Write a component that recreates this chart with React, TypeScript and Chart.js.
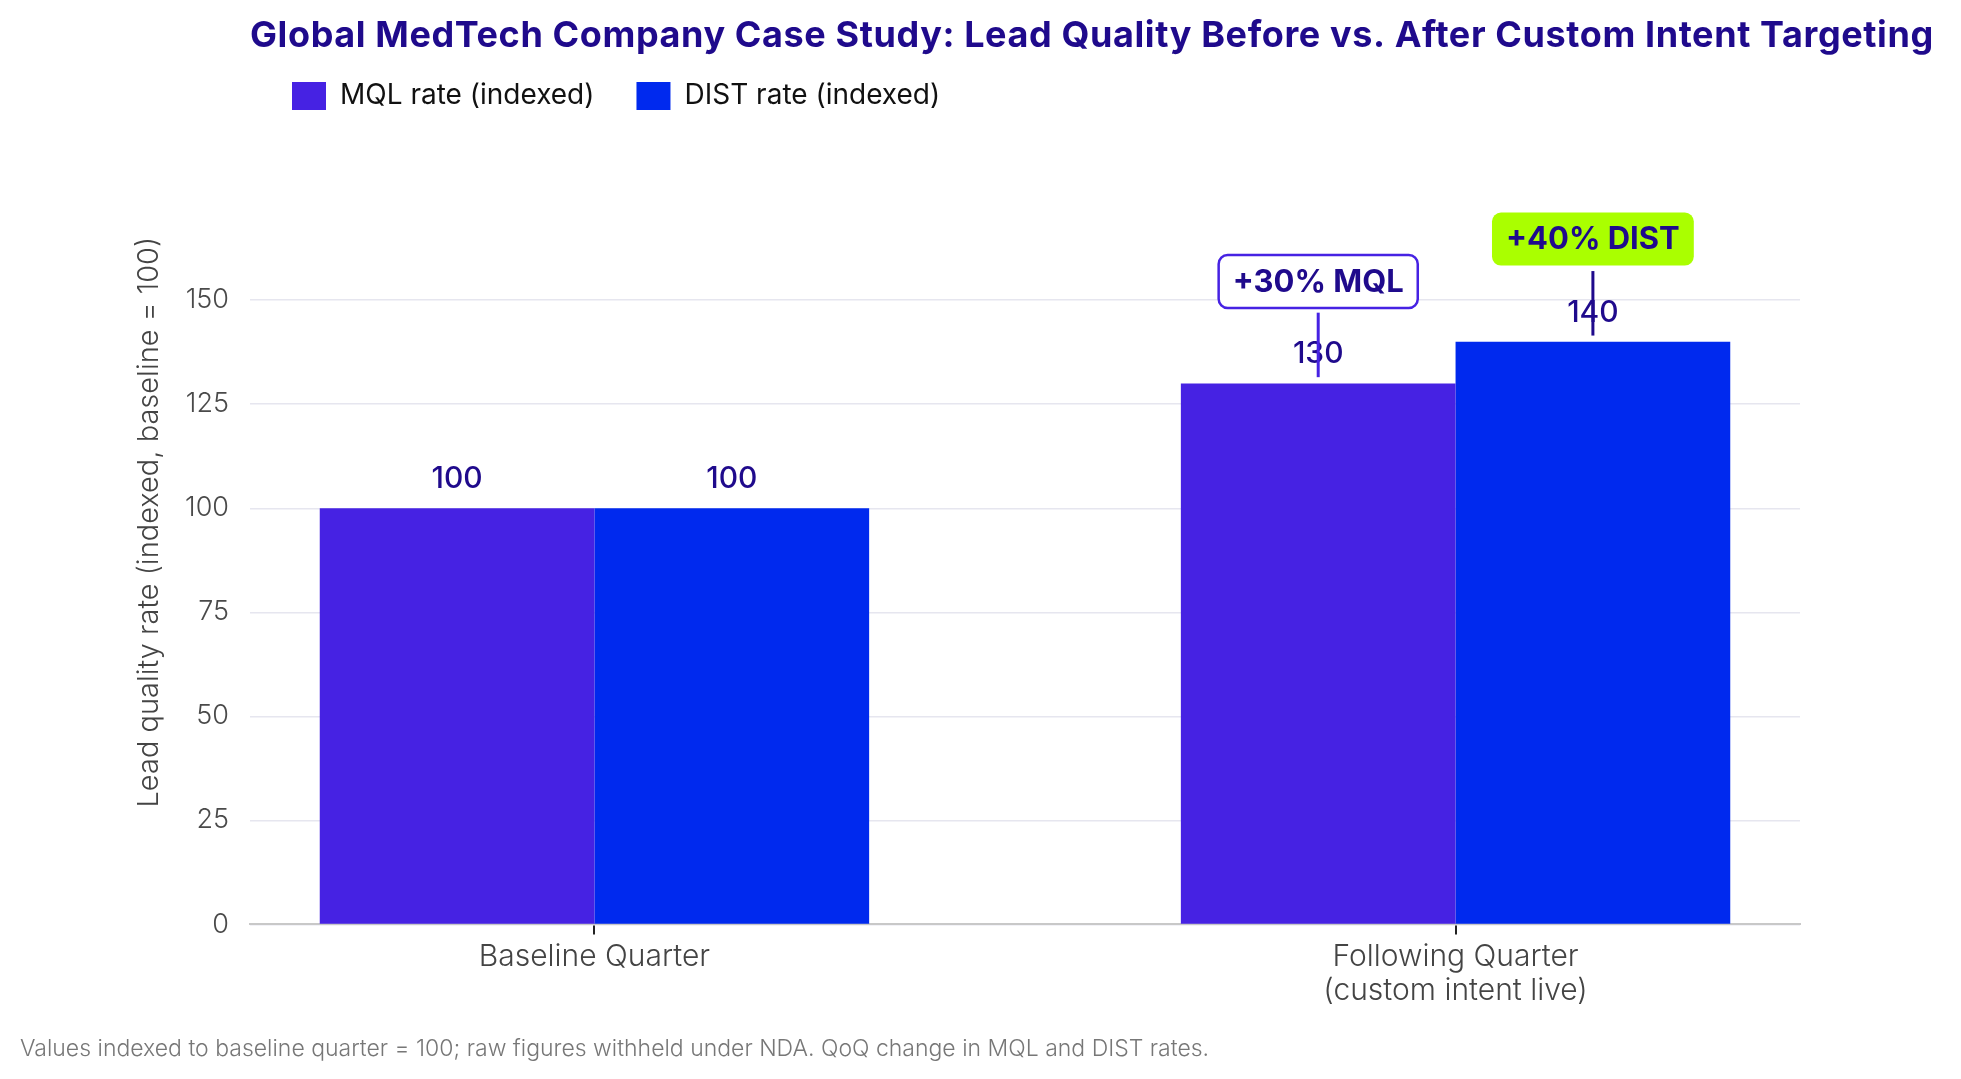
import { useEffect, useRef } from 'react';
import { Chart, registerables } from 'chart.js';
import type { Plugin } from 'chart.js';

Chart.register(...registerables);

const FONT = 'Inter, "Noto Sans", sans-serif';
const INK = '#1f0a8c';
const MQL_COLOR = '#4622e3';
const DIST_COLOR = '#0029ee';
const LIME = '#aaff00';

const TITLE = 'Global MedTech Company Case Study: Lead Quality Before vs. After Custom Intent Targeting';
const FOOTNOTE = 'Values indexed to baseline quarter = 100; raw figures withheld under NDA. QoQ change in MQL and DIST rates.';
const Y_TITLE = 'Lead quality rate (indexed, baseline = 100)';

const quarters = [['Baseline Quarter'], ['Following Quarter', '(custom intent live)']];
const seriesNames = ['MQL rate (indexed)', 'DIST rate (indexed)'];
const mqlValues = [100, 130];
const distValues = [100, 140];
const yTicks = [0, 25, 50, 75, 100, 125, 150];

// callouts on the following quarter, one per series (index units)
const calloutTexts = ['+30% MQL', '+40% DIST'];
const calloutCentre = [154.5, 164.7];
const calloutLineTop = [147, 157];
const calloutLineBottom = [131.5, 141.5];

const calloutFill = ['#ffffff', LIME];
const calloutBorder = [MQL_COLOR, null];
const calloutLine = [MQL_COLOR, INK];

const overlay: Plugin<'bar'> = {
  id: 'overlay',
  afterDatasetsDraw(chart) {
    const { ctx, chartArea } = chart;
    const y = chart.scales.y;
    ctx.save();

    // headline, left aligned with the plot
    ctx.font = `700 36px ${FONT}`;
    (ctx as any).letterSpacing = '0.6px';
    ctx.fillStyle = INK;
    ctx.textAlign = 'left';
    ctx.textBaseline = 'middle';
    ctx.fillText(TITLE, chartArea.left, 36);

    // value labels
    ctx.font = `500 30px ${FONT}`;
    (ctx as any).letterSpacing = '0px';
    ctx.textAlign = 'center';
    chart.data.datasets.forEach((ds, di) => {
      chart.getDatasetMeta(di).data.forEach((bar: any, i) => {
        const v = (ds.data[i] as any).y;
        ctx.fillText(String(v), bar.x, bar.y - 29);
      });
    });

    // callouts
    const last = quarters.length - 1;
    calloutTexts.forEach((text, di) => {
      const bar: any = chart.getDatasetMeta(di).data[last];
      const x = bar.x;
      ctx.font = `700 31px ${FONT}`;
      const w = ctx.measureText(text).width + 28;
      const h = 53;
      const cy = y.getPixelForValue(calloutCentre[di]);
      ctx.beginPath();
      ctx.roundRect(x - w / 2, cy - h / 2, w, h, 9);
      ctx.fillStyle = calloutFill[di];
      ctx.fill();
      if (calloutBorder[di]) {
        ctx.lineWidth = 2.5;
        ctx.strokeStyle = calloutBorder[di] as string;
        ctx.stroke();
      }
      ctx.fillStyle = INK;
      ctx.fillText(text, x, cy + 1);

      ctx.strokeStyle = calloutLine[di];
      ctx.lineWidth = 3;
      ctx.beginPath();
      ctx.moveTo(x, y.getPixelForValue(calloutLineTop[di]));
      ctx.lineTo(x, y.getPixelForValue(calloutLineBottom[di]));
      ctx.stroke();
    });

    ctx.restore();
  },
};

export default function App() {
  const canvasRef = useRef<HTMLCanvasElement>(null);

  useEffect(() => {
    if (!canvasRef.current) return;

    const chart = new Chart(canvasRef.current, {
      type: 'bar',
      data: {
        datasets: [
          {
            label: seriesNames[0],
            data: quarters.map((_, i) => ({ x: i, y: mqlValues[i] })),
            backgroundColor: MQL_COLOR,
            borderWidth: 0,
            categoryPercentage: 0.638,
            barPercentage: 1,
          },
          {
            label: seriesNames[1],
            data: quarters.map((_, i) => ({ x: i, y: distValues[i] })),
            backgroundColor: DIST_COLOR,
            borderWidth: 0,
            categoryPercentage: 0.638,
            barPercentage: 1,
          },
        ],
      },
      options: {
        responsive: true,
        maintainAspectRatio: false,
        animation: false,
        layout: { padding: { left: 20, right: 161, top: 40, bottom: 0 } },
        plugins: {
          title: { display: false },
          legend: {
            position: 'top',
            align: 'start',
            fullSize: false,
            labels: {
              boxWidth: 34,
              boxHeight: 28,
              padding: 42,
              color: '#111',
              font: { family: FONT, size: 28 },
            },
          },
          subtitle: {
            display: true,
            text: FOOTNOTE,
            position: 'bottom',
            align: 'start',
            color: '#777',
            font: { family: FONT, size: 23, weight: 300 },
            padding: { top: 21, bottom: 16 },
          },
          tooltip: { enabled: false },
        },
        scales: {
          x: {
            type: 'linear',
            min: -0.4,
            max: 1.4,
            offset: false,
            grid: { drawOnChartArea: false, drawTicks: true, tickLength: 10, color: '#222', lineWidth: 2, offset: false },
            border: { display: true, color: '#c8c8c8', width: 2 },
            ticks: {
              stepSize: 1,
              includeBounds: false,
              autoSkip: false,
              maxRotation: 0,
              padding: 6,
              color: '#444',
              font: { family: FONT, size: 30, weight: 300, lineHeight: '34px' },
              callback: (v) => quarters[Number(v)] ?? '',
            },
            afterBuildTicks: (s) => {
              s.ticks = quarters.map((_, i) => ({ value: i }));
            },
          },
          y: {
            min: 0,
            max: 193.3,
            border: { display: false },
            grid: { color: '#e6e6ef', lineWidth: 1.5, drawTicks: false },
            ticks: {
              padding: 21,
              color: '#4a4a4a',
              font: { family: FONT, size: 27, weight: 300 },
            },
            afterBuildTicks: (s) => {
              s.ticks = yTicks.map((v) => ({ value: v }));
            },
            afterFit: (s) => {
              s.width = 230;
            },
            title: {
              display: true,
              text: Y_TITLE,
              color: '#444',
              font: { family: FONT, size: 29, weight: 300 },
              padding: { top: 112, bottom: 0 },
            },
          },
        },
      },
      plugins: [overlay],
    });

    return () => {
      chart.destroy();
    };
  }, []);

  return (
    <div style={{ position: 'fixed', inset: 0, background: '#fff' }}>
      <canvas ref={canvasRef} />
    </div>
  );
}
